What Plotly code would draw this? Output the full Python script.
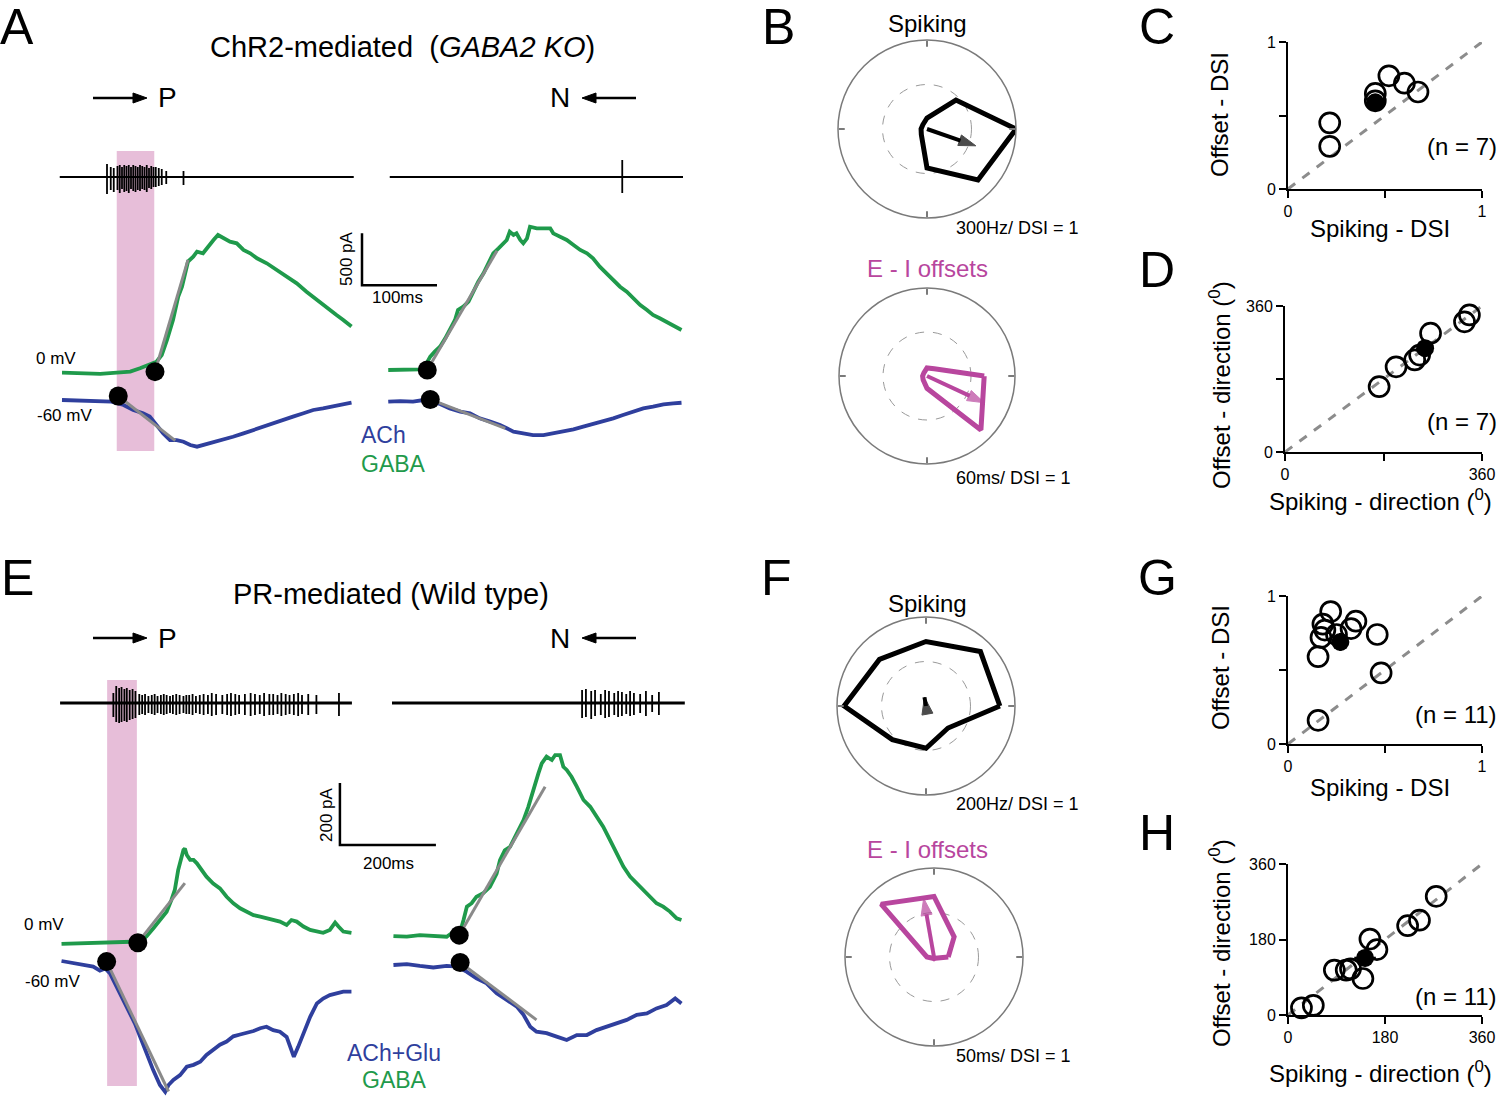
import plotly.graph_objects as go

W, H = 1500, 1097
FONT = "Liberation Sans, Arial, sans-serif"
GREEN = "#1f9a4b"
BLUE = "#2f3f9d"
GRAY = "#8a8a8a"
MAGENTA = "#b8469e"
PINK = "#e6bad7"

# ---------------- data: panel A (ChR2, GABA2 KO) ----------------
# P direction (left) -- time in ms, current in pA (relative to baseline)
A_P_gaba_t = [16,44,67,89,107,120,133,142,149,156,164,171,176,180,184,191,196,204,209,218,224,231,240,249,258,267,276,289,302,316,329,342,356,369,382,391,402]
A_P_gaba = [6,0,-6,6,16,48,90,112,176,320,513,737,833,962,1074,1122,1170,1154,1202,1282,1330,1298,1266,1250,1186,1154,1106,1058,994,929,865,785,705,625,561,513,449]
A_P_ach_t = [16,44,67,82,98,111,124,133,142,151,160,169,178,187,196,204,213,222,231,244,258,271,284,298,311,324,338,351,364,378,391,402]
A_P_ach = [0,-6,-10,-16,-48,-96,-128,-160,-240,-321,-385,-385,-401,-433,-449,-433,-423,-401,-385,-353,-321,-288,-256,-224,-192,-160,-128,-96,-80,-58,-38,-26]
A_P_onset_t = [140, 91]          # gaba, ach
A_P_onset = [16, 38]
A_P_fit_gaba_t = [140, 184]
A_P_fit_gaba = [16, 1090]
A_P_fit_ach_t = [91, 167]
A_P_fit_ach = [38, -391]
A_P_spk_span = [13, 405]
A_P_spk_t = [76,81,85,90,93,96,99,102,105,108,111,114,117,120,123,126,129,132,135,138,141,145,149,155,178]
A_P_spk_up = [13,10,9,11,12,10,12,11,12,10,12,11,10,12,11,10,12,9,11,10,10,9,8,6,6]
A_P_spk_dn = [-17,-13,-15,-13,-16,-12,-15,-14,-16,-12,-14,-15,-13,-14,-12,-13,-15,-11,-12,-10,-10,-9,-8,-7,-8]
A_light = [89, 139]

# N direction (right)
A_N_gaba_t = [11,27,44,53,62,67,73,80,87,93,100,104,111,118,124,131,138,144,151,158,164,169,173,178,182,187,191,196,200,209,218,227,231,240,249,258,267,276,284,293,302,311,320,329,338,347,356,364,373,382,391,402]
A_N_gaba = [0,0,0,6,64,128,176,224,304,385,481,577,609,657,753,849,929,1026,1122,1170,1218,1250,1330,1298,1314,1250,1218,1266,1378,1362,1362,1362,1314,1282,1250,1202,1154,1122,1074,994,929,865,801,753,689,625,577,529,497,465,433,385]
A_N_ach_t = [11,27,44,58,67,80,93,107,120,133,147,160,169,178,191,204,218,231,244,258,271,284,298,311,324,338,351,364,378,391,402]
A_N_ach = [0,6,0,16,0,-22,-64,-96,-112,-160,-192,-224,-256,-288,-304,-321,-321,-304,-288,-266,-240,-215,-192,-160,-128,-96,-64,-48,-26,-16,-10]
A_N_onset_t = [63, 67]
A_N_onset = [0, 22]
A_N_fit_gaba_t = [63, 156]
A_N_fit_gaba = [0, 1147]
A_N_fit_ach_t = [67, 167]
A_N_fit_ach = [22, -256]
A_N_spk_span = [13, 404]
A_N_spk_t = [323]
A_N_spk_up = [17]
A_N_spk_dn = [-16]

# ---------------- data: panel E (PR, wild type) ----------------
E_P_gaba_t = [24,56,90,118,146,170,188,201,215,229,243,253,260,267,274,278,281,285,292,299,306,316,326,340,354,368,382,396,410,424,438,451,465,479,493,503,514,528,542,556,569,583,594,601,611,628]
E_P_gaba = [-2,0,0,2,4,5,5,22,48,75,102,140,172,236,279,301,306,285,269,269,258,236,215,193,177,150,129,113,102,91,86,81,75,70,59,75,70,54,43,38,34,43,67,54,38,34]
E_P_ach_t = [24,49,69,90,104,115,125,139,153,167,177,188,201,215,229,240,247,257,271,285,299,313,326,340,354,368,382,396,410,424,438,451,465,479,493,501,508,517,528,542,556,569,583,597,611,628]
E_P_ach = [0,-8,-13,-18,-31,-24,-40,-83,-126,-169,-202,-245,-299,-352,-400,-422,-400,-384,-368,-341,-335,-325,-303,-286,-270,-260,-243,-237,-232,-226,-217,-212,-223,-228,-245,-277,-309,-277,-234,-180,-137,-121,-110,-104,-99,-99]
E_P_onset_t = [183, 118]
E_P_onset = [2, -2]
E_P_fit_gaba_t = [183, 281]
E_P_fit_gaba = [2, 194]
E_P_fit_ach_t = [118, 247]
E_P_fit_ach = [-2, -421]
E_P_spk_span = [21, 629]
E_P_spk_t = [132,138,144,149,155,160,166,172,178,186,192,198,205,212,218,224,231,237,243,250,256,263,270,278,284,290,297,304,312,320,329,337,346,359,369,377,386,394,406,418,427,437,446,457,465,474,482,491,499,508,517,525,538,555,602]
E_P_spk_up = [10,17,15,16,14,15,13,14,12,9,8,9,7,8,9,7,8,9,8,7,8,9,8,7,8,8,9,7,8,9,8,10,9,8,9,10,9,8,9,10,9,8,10,9,9,8,10,9,8,9,10,8,9,8,10]
E_P_spk_dn = [-14,-19,-20,-19,-18,-19,-17,-16,-15,-12,-11,-12,-10,-11,-12,-10,-11,-12,-11,-10,-11,-12,-11,-10,-11,-11,-12,-10,-11,-12,-11,-13,-12,-11,-12,-13,-12,-11,-12,-13,-12,-11,-13,-12,-12,-11,-13,-12,-11,-12,-13,-11,-12,-11,-13]
E_light = [119, 181]

E_N_gaba_t = [28,56,83,111,139,149,167,174,181,191,201,215,229,243,250,260,271,278,288,299,309,319,330,337,347,358,365,375,382,389,399,410,424,438,451,465,479,493,507,521,535,549,563,576,590,604,618,628]
E_N_gaba = [2,0,5,2,0,11,16,54,97,108,129,140,161,204,247,279,290,312,344,376,419,473,527,559,581,570,586,586,548,538,516,484,441,419,387,355,312,269,226,194,172,150,129,108,97,81,59,54]
E_N_ach_t = [28,56,83,111,139,160,181,201,222,243,264,285,299,313,326,347,368,389,410,431,451,472,493,514,535,556,576,597,615,628]
E_N_ach = [0,3,-3,-8,-3,-5,-22,-43,-59,-91,-113,-134,-161,-199,-215,-220,-231,-242,-226,-226,-210,-199,-188,-177,-161,-156,-140,-129,-108,-124]
E_N_onset_t = [165, 167]
E_N_onset = [5, 8]
E_N_fit_gaba_t = [165, 344]
E_N_fit_gaba = [5, 484]
E_N_fit_ach_t = [167, 326]
E_N_fit_ach = [8, -177]
E_N_spk_span = [25, 635]
E_N_spk_t = [421,429,440,448,460,469,477,488,496,504,513,521,529,542,554,567,581]
E_N_spk_up = [13,14,12,13,9,13,12,10,12,11,9,12,10,9,12,8,11]
E_N_spk_dn = [-15,-14,-16,-13,-12,-15,-14,-12,-14,-13,-11,-13,-12,-10,-13,-9,-12]

# ---------------- polar data (8 directions) ----------------
directions = [0, 45, 90, 135, 180, 225, 270, 315]
B_spk_hz = [300, 138, 37, 20, 20, 27, 131, 243]
B_spk_dsi, B_spk_ang = 0.58, 341
B_off_ms = [39, 7, 5.5, 3, 3, 3.7, 8.4, 52]
B_off_dsi, B_off_ang = 0.72, 335
F_spk_hz = [166, 173, 145, 148, 184, 107, 95, 70]
F_spk_dsi, F_spk_ang = 0.10, 100
F_off_ms = [8, 16, 34, 42, 4, 1, 1, 1]
F_off_dsi, F_off_ang = 0.67, 100

# ---------------- population scatter data ----------------
C_x = [0.52, 0.60, 0.67, 0.45, 0.45, 0.215, 0.215]
C_y = [0.77, 0.72, 0.66, 0.65, 0.60, 0.45, 0.29]
C_mean = [0.45, 0.59]; C_sem = [0.03, 0.03]
D_x = [172, 203, 237, 246, 266, 328, 337]
D_y = [161, 210, 227, 239, 293, 321, 338]
D_mean = [256, 256]; D_sem = [14, 14]
G_x = [0.22, 0.18, 0.19, 0.17, 0.155, 0.35, 0.325, 0.46, 0.48, 0.155, 0.25]
G_y = [0.895, 0.81, 0.77, 0.72, 0.59, 0.83, 0.78, 0.74, 0.48, 0.16, 0.74]
G_mean = [0.27, 0.69]; G_sem = [0.03, 0.06]
H_x = [275, 222, 244, 152, 165, 139, 86, 108, 116, 25, 47]
H_y = [283, 213, 226, 181, 156, 87, 107, 107, 110, 17, 23]
H_mean = [143, 136]; H_sem = [20, 20]
DSI_ticks = [0, 1]; DSI_minor = [0.5]
DIR_ticks_D = [0, 360]; DIR_minor_D = [180]
DIR_ticks_H = [0, 180, 360]

# scale bars
A_bar = dict(ms=100, pA=500)
E_bar = dict(ms=200, pA=200)

# ---------------- layout helpers ----------------
def fx(px):
    return px / W

def fy(py):
    return 1 - py / H

layout = dict(width=W, height=H, margin=dict(l=0, r=0, t=0, b=0, pad=0, autoexpand=False),
              paper_bgcolor="white", plot_bgcolor="rgba(0,0,0,0)",
              showlegend=False, font=dict(family=FONT, color="black"))

def time_axis(px0, px1, origin, px_per_ms):
    return dict(domain=[fx(px0), fx(px1)],
                range=[(px0 - origin) / px_per_ms, (px1 - origin) / px_per_ms],
                visible=False, fixedrange=True)

def val_axis(top, bot, base, px_per_unit, anchor):
    return dict(domain=[fy(bot), fy(top)],
                range=[(base - bot) / px_per_unit, (base - top) / px_per_unit],
                visible=False, anchor=anchor, fixedrange=True)

A_ms, A_pA = 0.75, 0.104
E_ms, E_pA = 0.48, 0.31
SPK = 1.0

layout["xaxis"] = time_axis(50, 445, 50, A_ms)
layout["xaxis2"] = time_axis(380, 700, 380, A_ms)
layout["xaxis3"] = time_axis(50, 445, 50, E_ms)
layout["xaxis4"] = time_axis(380, 700, 380, E_ms)
layout["yaxis"] = val_axis(215, 470, 373.3, A_pA, "x")
layout["yaxis2"] = val_axis(215, 470, 400.0, A_pA, "x")
layout["yaxis3"] = val_axis(147, 207, 177, SPK, "x")
layout["yaxis4"] = val_axis(215, 470, 370.0, A_pA, "x2")
layout["yaxis5"] = val_axis(215, 470, 401.7, A_pA, "x2")
layout["yaxis6"] = val_axis(147, 207, 177, SPK, "x2")
layout["yaxis7"] = val_axis(735, 1097, 943.3, E_pA, "x3")
layout["yaxis8"] = val_axis(735, 1097, 961.0, E_pA, "x3")
layout["yaxis9"] = val_axis(673, 733, 703, SPK, "x3")
layout["yaxis10"] = val_axis(735, 1097, 936.7, E_pA, "x4")
layout["yaxis11"] = val_axis(735, 1097, 965.0, E_pA, "x4")
layout["yaxis12"] = val_axis(673, 733, 703, SPK, "x4")

def sc_axis(domain, rng, tv, minor, anchor):
    d = dict(domain=domain, range=rng, anchor=anchor,
             showline=True, linecolor="black", linewidth=2,
             ticks="outside", ticklen=7, tickwidth=2, tickcolor="black",
             tickmode="array", tickvals=tv, ticktext=[str(v) for v in tv],
             tickfont=dict(size=16, family=FONT),
             showgrid=False, zeroline=False, fixedrange=True)
    if minor:
        d["minor"] = dict(tickmode="array", tickvals=minor, ticks="outside", ticklen=7,
                          tickwidth=2, tickcolor="black", showgrid=False)
    return d

layout["xaxis5"] = sc_axis([fx(1288), fx(1482)], [0, 1], DSI_ticks, DSI_minor, "y13")
layout["yaxis13"] = sc_axis([fy(189), fy(42)], [0, 1], DSI_ticks, DSI_minor, "x5")
layout["xaxis6"] = sc_axis([fx(1285), fx(1482)], [0, 360], DIR_ticks_D, DIR_minor_D, "y14")
layout["yaxis14"] = sc_axis([fy(452), fy(306)], [0, 360], DIR_ticks_D, DIR_minor_D, "x6")
layout["xaxis7"] = sc_axis([fx(1288), fx(1482)], [0, 1], DSI_ticks, DSI_minor, "y15")
layout["yaxis15"] = sc_axis([fy(744), fy(596)], [0, 1], DSI_ticks, DSI_minor, "x7")
layout["xaxis8"] = sc_axis([fx(1288), fx(1482)], [0, 360], DIR_ticks_H, None, "y16")
layout["yaxis16"] = sc_axis([fy(1015), fy(864)], [0, 360], DIR_ticks_H, None, "x8")

# polar subplots
def polar_box(cx, cy, r):
    return dict(x=[fx(cx - r), fx(cx + r)], y=[fy(cy + r), fy(cy - r)])

def polar_main(box, rmax):
    return dict(domain=box, bgcolor="rgba(0,0,0,0)",
                angularaxis=dict(rotation=0, direction="counterclockwise",
                                 tickvals=[0, 90, 180, 270], ticks="inside", ticklen=6,
                                 tickcolor="#7a7a7a", tickwidth=1.5,
                                 showticklabels=False, showgrid=False,
                                 linecolor="#7a7a7a", linewidth=1.5),
                radialaxis=dict(range=[0, rmax], tickvals=[rmax / 2], showticklabels=False,
                                ticks="", showline=False, showgrid=True,
                                gridcolor="#9a9a9a", griddash="dash", gridwidth=1.3))

def polar_overlay(box):
    return dict(domain=box, bgcolor="rgba(0,0,0,0)",
                angularaxis=dict(rotation=0, direction="counterclockwise", visible=False),
                radialaxis=dict(range=[0, 1], visible=False))

boxB1 = polar_box(927, 129, 89)
boxB2 = polar_box(927, 376, 88)
boxF1 = polar_box(926, 706, 89)
boxF2 = polar_box(934, 957, 89)
layout["polar"] = polar_main(boxB1, 300)
layout["polar2"] = polar_overlay(boxB1)
layout["polar3"] = polar_main(boxB2, 60)
layout["polar4"] = polar_overlay(boxB2)
layout["polar5"] = polar_main(boxF1, 200)
layout["polar6"] = polar_overlay(boxF1)
layout["polar7"] = polar_main(boxF2, 50)
layout["polar8"] = polar_overlay(boxF2)

fig = go.Figure()
fig.update_layout(**layout)

# ---------------- traces ----------------
def add_line(x, y, xa, ya, color, width):
    fig.add_trace(go.Scatter(x=x, y=y, xaxis=xa, yaxis=ya, mode="lines",
                             line=dict(color=color, width=width), hoverinfo="skip",
                             cliponaxis=False))

def add_spikes(span, ts, ups, dns, xa, ya, width):
    add_line(span, [0, 0], xa, ya, "black", width)
    xs, ys = [], []
    for t, u, d in zip(ts, ups, dns):
        xs += [t, t, None]
        ys += [u, d, None]
    add_line(xs, ys, xa, ya, "black", 1.8)

def add_panel(xa, ya_g, ya_a, ya_s, gt, g, at, a, ont, on, fgt, fg, fat, fa, span, st, su, sd, bw):
    add_spikes(span, st, su, sd, xa, ya_s, bw)
    add_line(gt, g, xa, ya_g, GREEN, 3.8)
    add_line(at, a, xa, ya_a, BLUE, 3.8)
    add_line(fgt, fg, xa, ya_g, GRAY, 3)
    add_line(fat, fa, xa, ya_a, GRAY, 3)
    fig.add_trace(go.Scatter(x=[ont[0]], y=[on[0]], xaxis=xa, yaxis=ya_g, mode="markers",
                             marker=dict(color="black", size=19), cliponaxis=False))
    fig.add_trace(go.Scatter(x=[ont[1]], y=[on[1]], xaxis=xa, yaxis=ya_a, mode="markers",
                             marker=dict(color="black", size=19), cliponaxis=False))

add_panel("x", "y", "y2", "y3", A_P_gaba_t, A_P_gaba, A_P_ach_t, A_P_ach, A_P_onset_t, A_P_onset,
          A_P_fit_gaba_t, A_P_fit_gaba, A_P_fit_ach_t, A_P_fit_ach,
          A_P_spk_span, A_P_spk_t, A_P_spk_up, A_P_spk_dn, 2)
add_panel("x2", "y4", "y5", "y6", A_N_gaba_t, A_N_gaba, A_N_ach_t, A_N_ach, A_N_onset_t, A_N_onset,
          A_N_fit_gaba_t, A_N_fit_gaba, A_N_fit_ach_t, A_N_fit_ach,
          A_N_spk_span, A_N_spk_t, A_N_spk_up, A_N_spk_dn, 2)
add_panel("x3", "y7", "y8", "y9", E_P_gaba_t, E_P_gaba, E_P_ach_t, E_P_ach, E_P_onset_t, E_P_onset,
          E_P_fit_gaba_t, E_P_fit_gaba, E_P_fit_ach_t, E_P_fit_ach,
          E_P_spk_span, E_P_spk_t, E_P_spk_up, E_P_spk_dn, 3)
add_panel("x4", "y10", "y11", "y12", E_N_gaba_t, E_N_gaba, E_N_ach_t, E_N_ach, E_N_onset_t, E_N_onset,
          E_N_fit_gaba_t, E_N_fit_gaba, E_N_fit_ach_t, E_N_fit_ach,
          E_N_spk_span, E_N_spk_t, E_N_spk_up, E_N_spk_dn, 3)

# scale bars (drawn in data units on the P-direction GABA axes)
A_bar_t0, A_bar_i0 = 416, 846
add_line([A_bar_t0, A_bar_t0, A_bar_t0 + A_bar["ms"]], [A_bar_i0 + A_bar["pA"], A_bar_i0, A_bar_i0], "x", "y", "black", 2.5)
E_bar_t0, E_bar_i0 = 604, 317
add_line([E_bar_t0, E_bar_t0, E_bar_t0 + E_bar["ms"]], [E_bar_i0 + E_bar["pA"], E_bar_i0, E_bar_i0], "x3", "y7", "black", 2.5)

# light stimulus windows
shapes = [
    dict(type="rect", xref="x", yref="paper", x0=A_light[0], x1=A_light[1], y0=fy(451), y1=fy(151),
         fillcolor=PINK, line=dict(width=0), layer="below", opacity=0.95),
    dict(type="rect", xref="x3", yref="paper", x0=E_light[0], x1=E_light[1], y0=fy(1086), y1=fy(680),
         fillcolor=PINK, line=dict(width=0), layer="below", opacity=0.95),
]

# direction arrows (shapes: shaft + filled head)
def arrow_shape(x_tail, x_head, py):
    s = 1 if x_head > x_tail else -1
    shapes.append(dict(type="line", xref="paper", yref="paper",
                       x0=fx(x_tail), x1=fx(x_head - s * 8), y0=fy(py), y1=fy(py),
                       line=dict(color="black", width=2.5)))
    path = "M {} {} L {} {} L {} {} Z".format(fx(x_head), fy(py), fx(x_head - s * 14), fy(py - 5),
                                               fx(x_head - s * 14), fy(py + 5))
    shapes.append(dict(type="path", xref="paper", yref="paper", path=path,
                       fillcolor="black", line=dict(color="black", width=1)))

for py in (98, 638):
    arrow_shape(93, 147, py)
    arrow_shape(636, 582, py)

# ---------------- polar plots ----------------
def closed(v):
    return list(v) + [v[0]]

def add_polar(sub, sub2, vals, color, dsi, ang):
    fig.add_trace(go.Scatterpolar(r=closed(vals), theta=closed(directions), subplot=sub,
                                  mode="lines", line=dict(color=color, width=5), hoverinfo="skip"))
    fig.add_trace(go.Scatterpolar(r=[0, dsi], theta=[ang, ang], subplot=sub2, mode="lines+markers",
                                  line=dict(color=color, width=4),
                                  marker=dict(symbol="arrow", size=[0, 18], color=color,
                                              line=dict(color=color, width=1), angleref="previous"),
                                  hoverinfo="skip"))

add_polar("polar", "polar2", B_spk_hz, "black", B_spk_dsi, B_spk_ang)
add_polar("polar3", "polar4", B_off_ms, MAGENTA, B_off_dsi, B_off_ang)
add_polar("polar5", "polar6", F_spk_hz, "black", F_spk_dsi, F_spk_ang)
add_polar("polar7", "polar8", F_off_ms, MAGENTA, F_off_dsi, F_off_ang)

# ---------------- population scatters ----------------
def add_scatter(xa, ya, xs, ys, mean, sem, diag):
    fig.add_trace(go.Scatter(x=diag, y=diag, xaxis=xa, yaxis=ya, mode="lines",
                             line=dict(color="#8c8c8c", width=3, dash="dash"), cliponaxis=False))
    fig.add_trace(go.Scatter(x=xs, y=ys, xaxis=xa, yaxis=ya, mode="markers",
                             marker=dict(symbol="circle-open", size=20, color="black",
                                         line=dict(width=2.7, color="black")), cliponaxis=False))
    fig.add_trace(go.Scatter(x=[mean[0]], y=[mean[1]], xaxis=xa, yaxis=ya, mode="markers",
                             marker=dict(symbol="circle", size=18, color="black"),
                             error_x=dict(type="data", array=[sem[0]], color="black", thickness=2.5, width=0),
                             error_y=dict(type="data", array=[sem[1]], color="black", thickness=2.5, width=0),
                             cliponaxis=False))

add_scatter("x5", "y13", C_x, C_y, C_mean, C_sem, [0, 1])
add_scatter("x6", "y14", D_x, D_y, D_mean, D_sem, [0, 360])
add_scatter("x7", "y15", G_x, G_y, G_mean, G_sem, [0, 1])
add_scatter("x8", "y16", H_x, H_y, H_mean, H_sem, [0, 360])

# ---------------- text ----------------
ann = []

def txt(s, px, py, size, color="black", xanchor="center", angle=0):
    ann.append(dict(text=s, x=fx(px), y=fy(py), xref="paper", yref="paper", showarrow=False,
                    xanchor=xanchor, yanchor="middle", textangle=angle,
                    font=dict(size=size, color=color, family=FONT)))

for letter, px, py in [("A", 17, 27), ("B", 778, 27), ("C", 1157, 27), ("D", 1157, 270),
                       ("E", 17, 578), ("F", 776, 578), ("G", 1157, 578), ("H", 1157, 833)]:
    txt(letter, px, py, 50)

txt("ChR2-mediated  (<i>GABA2 KO</i>)", 402, 47, 29)
txt("PR-mediated (Wild type)", 391, 594, 29)
for py in (98, 638):
    txt("P", 167, py, 28)
    txt("N", 560, py, 28)

txt("0 mV", 56, 359, 17)
txt("-60 mV", 64, 416, 17)
txt("0 mV", 44, 924, 17)
txt("-60 mV", 52, 981, 17)
txt("ACh", 383, 435, 23, BLUE)
txt("GABA", 393, 464, 23, GREEN)
txt("ACh+Glu", 394, 1053, 23, BLUE)
txt("GABA", 394, 1080, 23, GREEN)
txt("500 pA", 346, 259, 17, angle=-90)
txt("100ms", 398, 297, 17)
txt("200 pA", 326, 815, 17, angle=-90)
txt("200ms", 388, 863, 17)

txt("Spiking", 927, 24, 24)
txt("E - I offsets", 927, 269, 24, MAGENTA)
txt("300Hz/ DSI = 1", 1081, 228, 18, xanchor="right")
txt("60ms/ DSI = 1", 1073, 478, 18, xanchor="right")
txt("Spiking", 927, 603, 24)
txt("E - I offsets", 927, 849, 24, MAGENTA)
txt("200Hz/ DSI = 1", 1081, 804, 18, xanchor="right")
txt("50ms/ DSI = 1", 1073, 1056, 18, xanchor="right")

txt("Offset - DSI", 1220, 115, 24, angle=-90)
txt("Spiking - DSI", 1380, 228, 24)
txt("(n = 7)", 1462, 146, 24)
txt("Offset - direction (<sup>0</sup>)", 1220, 385, 24, angle=-90)
txt("Spiking - direction (<sup>0</sup>)", 1380, 500, 24)
txt("(n = 7)", 1462, 421, 24)
txt("Offset - DSI", 1220, 668, 24, angle=-90)
txt("Spiking - DSI", 1380, 787, 24)
txt("(n = 11)", 1456, 714, 24)
txt("Offset - direction (<sup>0</sup>)", 1220, 943, 24, angle=-90)
txt("Spiking - direction (<sup>0</sup>)", 1380, 1072, 24)
txt("(n = 11)", 1456, 996, 24)

fig.update_layout(annotations=ann, shapes=shapes)

POST = ("document.documentElement.style.margin='0';document.body.style.margin='0';"
        "document.body.style.padding='0';document.body.style.overflow='hidden';"
        "document.documentElement.style.overflow='hidden';"
        "var d=document.getElementById('{plot_id}');d.style.position='absolute';"
        "d.style.left='0px';d.style.top='0px';")
fig.write_html("out.html", post_script=POST, config={"displayModeBar": False})
